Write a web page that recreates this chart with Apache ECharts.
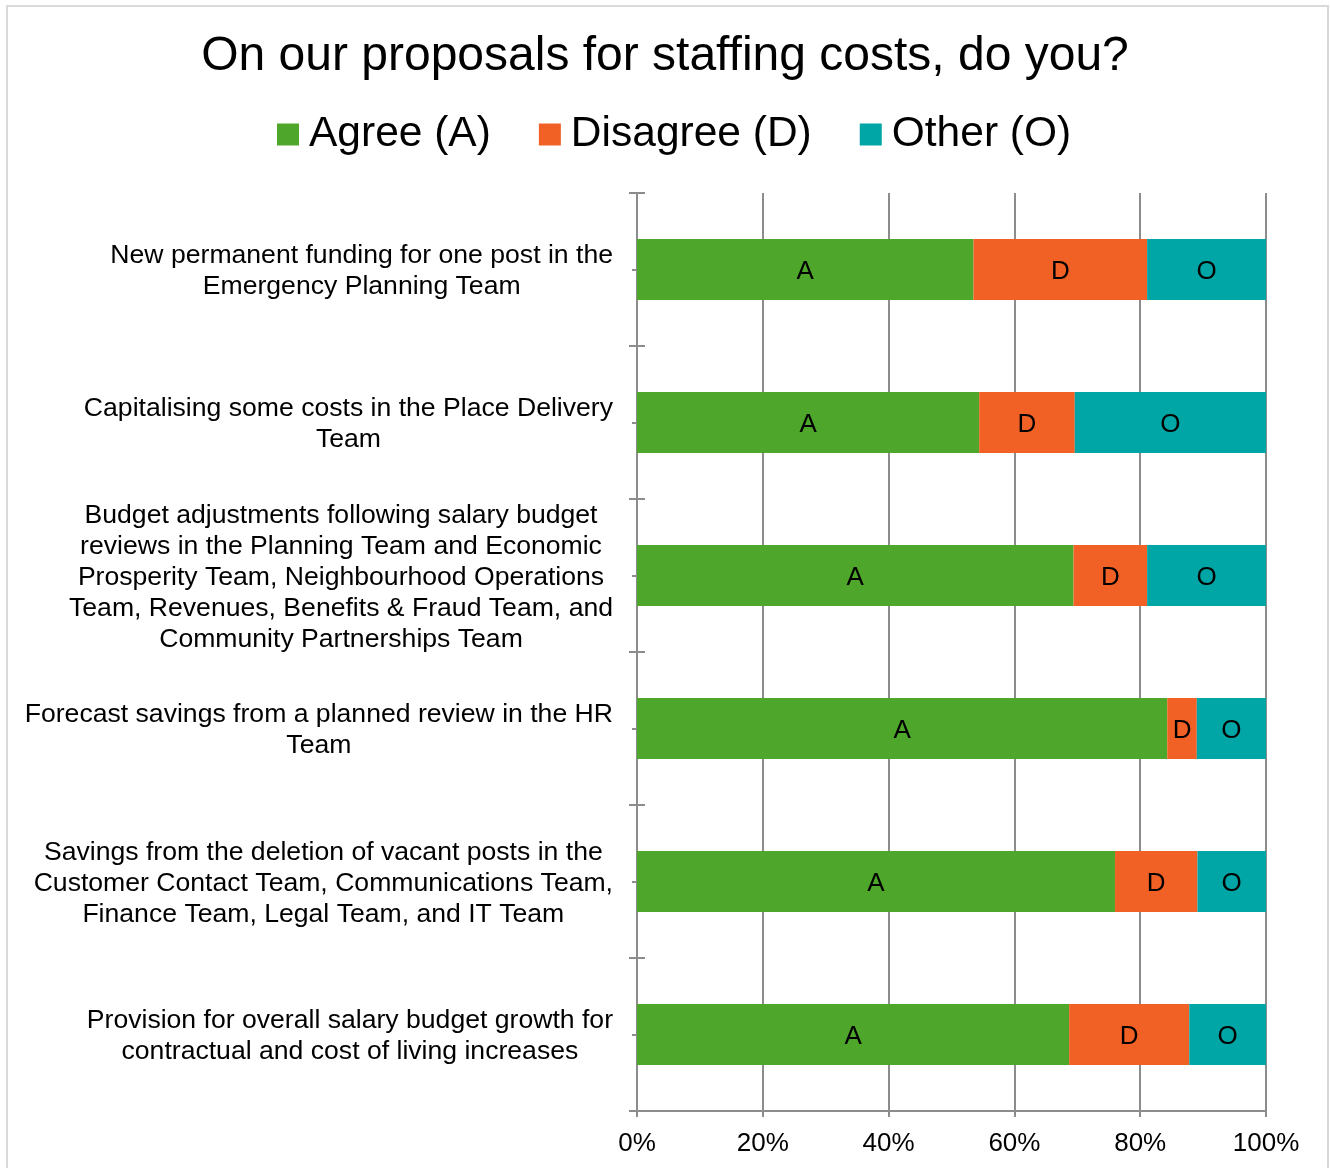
<!DOCTYPE html>
<html>
<head>
<meta charset="utf-8">
<title>On our proposals for staffing costs, do you?</title>
<script src="https://cdn.jsdelivr.net/npm/echarts@6/dist/echarts.min.js"></script>
<style>
  html, body { margin: 0; padding: 0; background: #ffffff; }
  #chart { width: 1330px; height: 1168px; }
</style>
</head>
<body>
<div id="chart"></div>
<script>
// Proposals (top to bottom), with the line breaks used in the axis labels
const categories = [
  'New permanent funding for one post in the\nEmergency Planning Team',
  'Capitalising some costs in the Place Delivery\nTeam',
  'Budget adjustments following salary budget\nreviews in the Planning Team and Economic\nProsperity Team, Neighbourhood Operations\nTeam, Revenues, Benefits & Fraud Team, and\nCommunity Partnerships Team',
  'Forecast savings from a planned review in the HR\nTeam',
  'Savings from the deletion of vacant posts in the\nCustomer Contact Team, Communications Team,\nFinance Team, Legal Team, and IT Team',
  'Provision for overall salary budget growth for\ncontractual and cost of living increases'
];

// Share of responses, percent
const agree    = [53.5, 54.4, 69.4, 84.3, 76.0, 68.7];
const disagree = [27.6, 15.2, 11.7,  4.7, 13.1, 19.1];
const other    = [18.9, 30.4, 18.9, 11.0, 10.9, 12.2];

const seriesNames = ['Agree (A)', 'Disagree (D)', 'Other (O)'];
const seriesShort = ['A', 'D', 'O'];
const percentTicks = [0, 20, 40, 60, 80, 100];

const colors = ['#4ea72a', '#f16024', '#00a6a6'];
const gridGray = '#8c8c8c';
const font = '"Liberation Sans", Arial, sans-serif';

const chart = echarts.init(document.getElementById('chart'), null, { renderer: 'canvas' });

function catAxis(extra) {
  return Object.assign({
    type: 'category',
    data: categories,
    inverse: true,
    position: 'left',
    axisLine: { show: false },
    axisLabel: { show: false },
    axisTick: { show: false },
    splitLine: { show: false }
  }, extra);
}

const option = {
  backgroundColor: '#ffffff',
  animation: false,
  color: colors,
  textStyle: { fontFamily: font, color: '#000000' },
  title: {
    text: 'On our proposals for staffing costs, do you?',
    left: 'center',
    top: 28,
    textStyle: { fontFamily: font, fontSize: 48, fontWeight: 'normal', color: '#000000' }
  },
  legend: {
    data: seriesNames,
    left: 272,
    top: 108,
    itemWidth: 22,
    itemHeight: 22,
    itemGap: 48,
    icon: 'rect',
    textStyle: { fontFamily: font, fontSize: 42.5, color: '#000000', padding: [0, 0, 0, 5] }
  },
  graphic: [{
    type: 'rect',
    silent: true,
    shape: { x: 7, y: 6, width: 1321, height: 1200 },
    style: { fill: null, stroke: '#d9d9d9', lineWidth: 2 }
  }],
  grid: { left: 637, right: 64, top: 193, bottom: 57, containLabel: false },
  xAxis: {
    type: 'value',
    min: 0,
    max: 100,
    interval: 20,
    axisLine: { show: true, lineStyle: { color: gridGray, width: 2 } },
    axisTick: { show: true, length: 6, lineStyle: { color: gridGray, width: 2 } },
    splitLine: { show: true, lineStyle: { color: gridGray, width: 2 } },
    axisLabel: {
      formatter: function (v) { return percentTicks.indexOf(v) >= 0 ? v + '%' : ''; },
      fontFamily: font, fontSize: 26, color: '#000000', margin: 20
    }
  },
  yAxis: [
    // labelled axis with boundary ticks pointing outward
    catAxis({
      axisLine: { show: true, lineStyle: { color: gridGray, width: 2 } },
      axisTick: { show: true, length: 8, inside: false, alignWithLabel: false, lineStyle: { color: gridGray, width: 2 } },
      axisLabel: {
        show: true,
        margin: 24,
        formatter: function (v) {
          return v.split('\n').map(function (l) { return '{c|' + l + '}'; }).join('\n');
        },
        rich: {
          c: { align: 'center', fontFamily: font, fontSize: 26.6, lineHeight: 31, color: '#000000', padding: [4, 0, 0, 0] }
        }
      }
    }),
    // boundary ticks pointing inward
    catAxis({ axisTick: { show: true, length: 8, inside: true, alignWithLabel: false, lineStyle: { color: gridGray, width: 2 } } }),
    // short ticks at each bar centre
    catAxis({ axisTick: { show: true, length: 5, inside: false, alignWithLabel: true, lineStyle: { color: gridGray, width: 2 } } }),
    catAxis({ axisTick: { show: true, length: 5, inside: true, alignWithLabel: true, lineStyle: { color: gridGray, width: 2 } } })
  ],
  series: [agree, disagree, other].map(function (vals, i) {
    return {
      name: seriesNames[i],
      type: 'bar',
      stack: 'total',
      yAxisIndex: 0,
      barWidth: 61,
      data: vals,
      itemStyle: { color: colors[i] },
      label: {
        show: true,
        position: 'inside',
        offset: [0, 2],
        formatter: seriesShort[i],
        fontFamily: font,
        fontSize: 26,
        color: '#000000'
      },
      emphasis: { disabled: true }
    };
  })
};

chart.setOption(option);
</script>
</body>
</html>
